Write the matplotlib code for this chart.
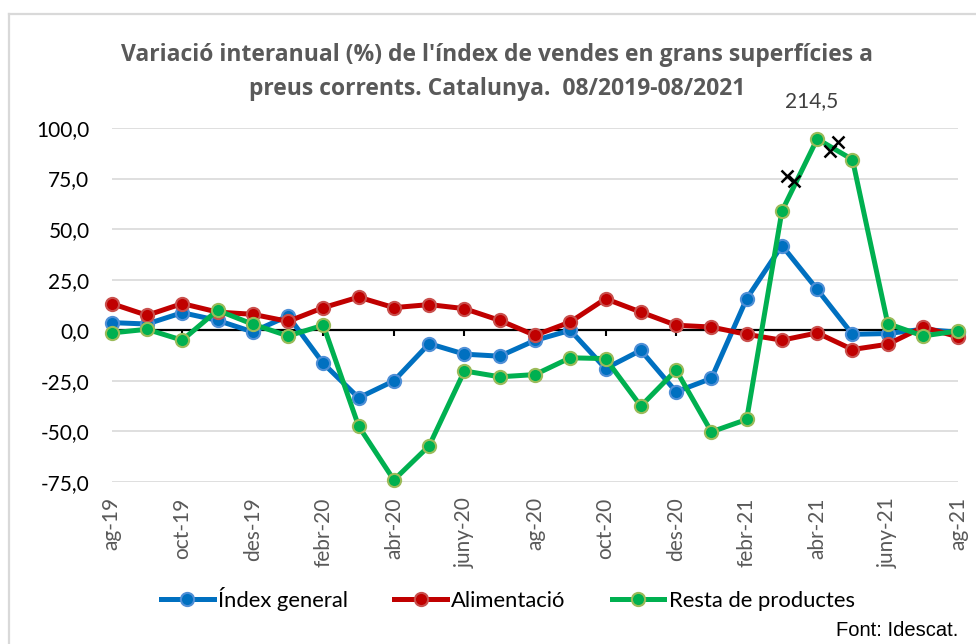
import numpy as np
import matplotlib
matplotlib.use("Agg")
import matplotlib.pyplot as plt
from matplotlib.lines import Line2D

# ---- data ----
months = ["ag-19", "set-19", "oct-19", "nov-19", "des-19", "gen-20", "febr-20", "març-20",
          "abr-20", "maig-20", "juny-20", "jul-20", "ag-20", "set-20", "oct-20", "nov-20",
          "des-20", "gen-21", "febr-21", "març-21", "abr-21", "maig-21", "juny-21", "jul-21", "ag-21"]
index_general = [3.8, 3.1, 8.7, 4.9, -0.8, 7.1, -16.4, -33.4, -25.0, -6.6, -11.8, -12.8, -5.0,
                 0.0, -18.9, -9.9, -30.4, -23.8, 15.6, 41.9, 20.2, -2.0, -1.6, 0.5, -1.0]
alimentacio = [13.2, 7.4, 13.2, 9.0, 7.9, 4.4, 11.2, 16.4, 11.2, 12.7, 10.7, 4.9, -2.5,
               4.1, 15.6, 9.0, 2.5, 1.6, -2.0, -4.9, -1.3, -9.5, -6.9, 1.6, -3.3]
resta = [-1.3, 0.5, -4.9, 9.9, 3.0, -2.8, 2.5, -47.4, -74.0, -57.1, -20.1, -23.0, -21.9,
         -13.6, -14.0, -37.5, -19.7, -50.2, -44.1, 58.9, 214.5, 84.4, 3.3, -2.8, -0.3]
resta_cap = 94.6           # value at which the off-scale point is drawn
break_x = [19.14, 19.34, 20.35, 20.60]
break_y = [76.5, 74.0, 88.8, 93.2]
yticks = [-75, -50, -25, 0, 25, 50, 75, 100]
tick_idx = list(range(0, 25, 2))
title_lines = ["Variació interanual (%) de l'índex de vendes en grans superfícies a",
               "preus corrents. Catalunya.  08/2019-08/2021"]

plt.rcParams['font.family'] = ['Lato', 'DejaVu Sans']

fig = plt.figure(figsize=(9.76, 6.44), dpi=100)
ax = fig.add_axes([111.7 / 976, 1 - 482 / 644, (958.3 - 111.7) / 976, (482 - 128) / 644])

x = np.arange(len(months))

ax.set_xlim(0, 24)
ax.set_ylim(-75, 100)
ax.set_yticks(yticks)
ax.set_yticklabels([f"{v:.1f}".replace(".", ",") for v in yticks], fontsize=15, color='#000000')
ax.yaxis.grid(True, color='#D9D9D9', lw=1.2)
ax.set_axisbelow(True)
for s in ['left', 'right', 'top']:
    ax.spines[s].set_visible(False)
ax.spines['bottom'].set_position(('data', 0))
ax.spines['bottom'].set_color('black')
ax.spines['bottom'].set_linewidth(1.6)
ax.spines['bottom'].set_zorder(2.5)
ax.tick_params(axis='y', length=0, pad=16)
ax.set_xticks(tick_idx)
ax.tick_params(axis='x', direction='out', length=4.5, width=1.5, color='black', labelbottom=False)

sec = ax.secondary_xaxis('bottom')
sec.set_xticks(tick_idx)
sec.set_xticklabels([months[i] for i in tick_idx], rotation=90, fontsize=15, color='#595959')
sec.tick_params(length=0, pad=11)
sec.spines['bottom'].set_visible(False)

lw = 3.6
ms = 9.5
ax.plot(x, index_general, color='#0070C0', lw=lw, marker='o', ms=ms,
        mfc='#0070C0', mec='#4F8FD6', mew=1.5, clip_on=False, zorder=3, label='Índex general')
ax.plot(x, alimentacio, color='#C00000', lw=lw, marker='o', ms=ms,
        mfc='#C00000', mec='#C9504D', mew=1.5, clip_on=False, zorder=4, label='Alimentació')
ax.plot(x, np.minimum(resta, resta_cap), color='#00B050', lw=lw, marker='o', ms=ms,
        mfc='#00B050', mec='#9BBB59', mew=1.5, clip_on=False, zorder=5, label='Resta de productes')
ax.plot(break_x, break_y, ls='none', marker='x', ms=8, mew=1.8, color='black', zorder=6, clip_on=False)

imax = int(np.argmax(resta))
ax.annotate(f"{resta[imax]:.1f}".replace(".", ","), xy=(imax, resta_cap), xytext=(-4, 27),
            textcoords='offset points', ha='center', va='center', fontsize=15, color='#404040')

for line, ypx in zip(title_lines, [55, 89]):
    fig.text(0.5095, 1 - ypx / 644, line, ha='center', va='center', fontsize=16.5,
             fontweight='bold', color='#595959', family=['Open Sans', 'DejaVu Sans'])

handles, labels = ax.get_legend_handles_labels()
leg = fig.legend(handles, labels, loc='center', bbox_to_anchor=(508 / 976, 1 - 599 / 644), ncol=3,
                 frameon=False, fontsize=15.8, handlelength=2.4, handletextpad=0.2, columnspacing=2.1)

fig.text(958 / 976, 1 - 630 / 644, "Font: Idescat.", ha='right', va='center', fontsize=14.5,
         family=['Liberation Sans', 'DejaVu Sans'], color='black')

# outer chart border (top and left visible)
fig.add_artist(Line2D([9 / 976, 9 / 976], [0, 1 - 14 / 644], transform=fig.transFigure, color='#D9D9D9', lw=1.6))
fig.add_artist(Line2D([9 / 976, 1], [1 - 14 / 644, 1 - 14 / 644], transform=fig.transFigure, color='#D9D9D9', lw=1.6))

fig.savefig("out.png", dpi=100)
